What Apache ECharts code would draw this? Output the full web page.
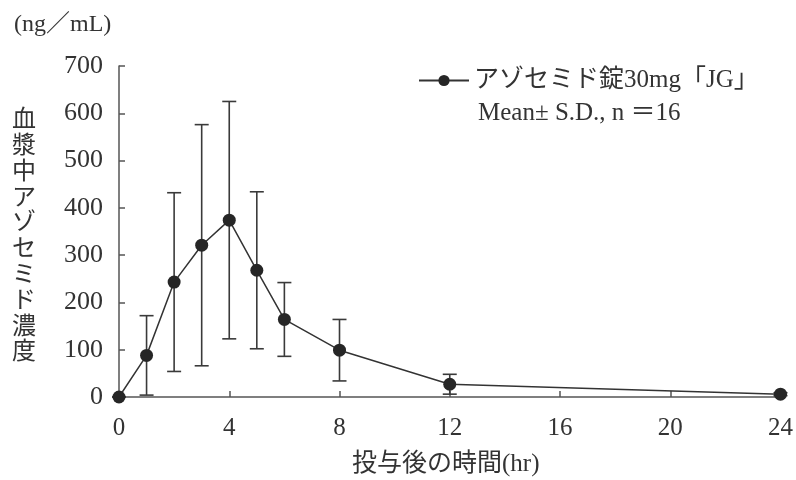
<!DOCTYPE html>
<html>
<head>
<meta charset="utf-8">
<script src="https://cdn.jsdelivr.net/npm/echarts@6/dist/echarts.min.js"></script>
<style>
  html, body { margin: 0; padding: 0; background: #fff; }
  #chart { width: 796px; height: 480px; }
</style>
</head>
<body>
<div id="chart"></div>
<script>
// Plasma concentration after dosing (mean ± SD)
const times = [0, 1, 2, 3, 4, 5, 6, 8, 12, 24];
const means = [0, 88, 243, 321, 374, 268, 164, 99, 27, 6];
const sds   = [0, 84, 189, 255, 251, 166, 78, 65, 21, 3];
const xTicks = [0, 4, 8, 12, 16, 20, 24];
const yTicks = [0, 100, 200, 300, 400, 500, 600, 700];

const seriesName = 'アゾセミド錠30mg「JG」';
const noteText = 'Mean± S.D., n ＝16';
const unitText = '(ng／mL)';
const yTitle = '血漿中アゾセミド濃度';
const xTitle = '投与後の時間(hr)';

const FONT = '"Liberation Serif", "Noto Sans CJK JP", serif';
const TEXT = '#333';
const AXIS = '#555';
const MARK = '#262626';

const meanData = times.map((t, i) => [t, means[i]]);
const errData = times.map((t, i) => [t, means[i] - sds[i], means[i] + sds[i]]);

const chart = echarts.init(document.getElementById('chart'), null, { renderer: 'canvas' });

chart.setOption({
  animation: false,
  backgroundColor: '#fff',
  grid: { left: 119, right: 14, top: 66, bottom: 83, containLabel: false },
  xAxis: {
    type: 'value',
    min: xTicks[0],
    max: xTicks[xTicks.length - 1],
    interval: 4,
    axisLine: { lineStyle: { color: AXIS, width: 1.5 } },
    axisTick: { inside: true, length: 6, lineStyle: { color: AXIS, width: 1.5 } },
    axisLabel: { color: TEXT, fontFamily: FONT, fontSize: 25, margin: 19 },
    splitLine: { show: false }
  },
  yAxis: {
    type: 'value',
    min: yTicks[0],
    max: yTicks[yTicks.length - 1],
    interval: 100,
    axisLine: { show: true, lineStyle: { color: AXIS, width: 1.5 } },
    axisTick: { show: true, inside: true, length: 6, lineStyle: { color: AXIS, width: 1.5 } },
    axisLabel: { color: TEXT, fontFamily: FONT, fontSize: 26, margin: 16 },
    splitLine: { show: false }
  },
  legend: {
    left: 413,
    top: 63,
    itemWidth: 50,
    itemHeight: 14,
    itemGap: 10,
    data: [seriesName],
    textStyle: { color: TEXT, fontFamily: FONT, fontSize: 25, padding: [0, 0, 0, 0] }
  },
  graphic: [
    {
      type: 'text', left: 14, top: 13,
      style: { text: unitText, fill: TEXT, font: '24px ' + FONT }
    },
    {
      type: 'text', left: 478, top: 101,
      style: { text: noteText, fill: TEXT, font: '25px ' + FONT }
    },
    {
      type: 'text', left: 12, top: 108,
      style: {
        text: yTitle.split('').join('\n'),
        fill: TEXT, font: '24px ' + FONT, lineHeight: 25.8, align: 'left'
      }
    },
    {
      type: 'text', left: 352, top: 452,
      style: { text: xTitle, fill: TEXT, font: '25px ' + FONT }
    }
  ],
  series: [
    {
      type: 'custom',
      name: 'sd',
      z: 1,
      silent: true,
      data: errData,
      renderItem: function (params, api) {
        const x = api.value(0);
        const lo = api.coord([x, api.value(1)]);
        const hi = api.coord([x, api.value(2)]);
        const half = 7;
        const st = { stroke: '#3a3a3a', lineWidth: 1.6 };
        return {
          type: 'group',
          children: [
            { type: 'line', shape: { x1: hi[0], y1: hi[1], x2: lo[0], y2: lo[1] }, style: st },
            { type: 'line', shape: { x1: hi[0] - half, y1: hi[1], x2: hi[0] + half, y2: hi[1] }, style: st },
            { type: 'line', shape: { x1: lo[0] - half, y1: lo[1], x2: lo[0] + half, y2: lo[1] }, style: st }
          ]
        };
      }
    },
    {
      type: 'line',
      name: seriesName,
      z: 3,
      data: meanData,
      symbol: 'circle',
      symbolSize: 13,
      showSymbol: true,
      lineStyle: { color: '#333', width: 1.5 },
      itemStyle: { color: MARK, borderWidth: 0 }
    }
  ]
});
</script>
</body>
</html>
